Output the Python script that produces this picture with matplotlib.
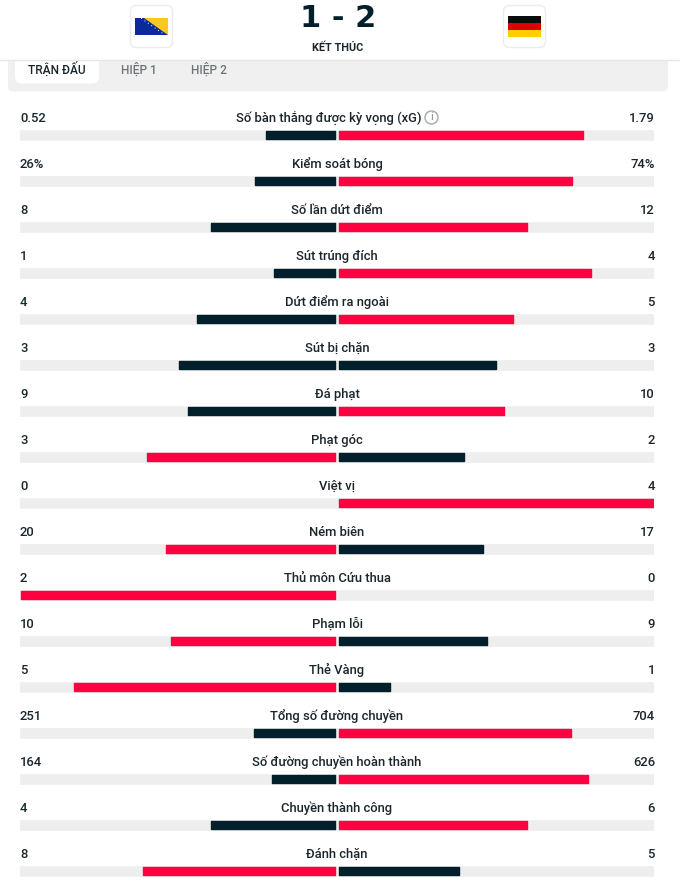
import matplotlib
matplotlib.use('Agg')
import matplotlib.pyplot as plt
from matplotlib.patches import FancyBboxPatch, Polygon, Rectangle, Circle

plt.rcParams['font.family'] = ['Roboto', 'DejaVu Sans']

# Data:
labels = ['Số bàn thắng được kỳ vọng (xG)', 'Kiểm soát bóng', 'Số lần dứt điểm', 'Sút trúng đích',
          'Dứt điểm ra ngoài', 'Sút bị chặn', 'Đá phạt', 'Phạt góc', 'Việt vị', 'Ném biên',
          'Thủ môn Cứu thua', 'Phạm lỗi', 'Thẻ Vàng', 'Tổng số đường chuyền',
          'Số đường chuyền hoàn thành', 'Chuyền thành công', 'Đánh chặn']
home_text = ['0.52', '26%', '8', '1', '4', '3', '9', '3', '0', '20', '2', '10', '5', '251', '164', '4', '8']
away_text = ['1.79', '74%', '12', '4', '5', '3', '10', '2', '4', '17', '0', '9', '1', '704', '626', '6', '5']
home = [0.52, 26, 8, 1, 4, 3, 9, 3, 0, 20, 2, 10, 5, 251, 164, 4, 8]
away = [1.79, 74, 12, 4, 5, 3, 10, 2, 4, 17, 0, 9, 1, 704, 626, 6, 5]
tabs = ['TRẬN ĐẤU', 'HIỆP 1', 'HIỆP 2']
score = '1 - 2'
status = 'KẾT THÚC'

DARK = '#02202b'
RED = '#ff0040'
TRACK = '#eeeeee'
TEXT = '#1a262c'

fig = plt.figure(figsize=(6.8, 8.88), dpi=100, facecolor='white')

# Stats: x is the share of the match total, y the row number
ax = fig.add_axes([20/680, 0, 634/680, 788/888])
ax.set_xlim(-1, 1)
ax.set_ylim((888-135)/46, (100-135)/46)
ax.axis('off')

gap = 1.7/317
for i in range(len(labels)):
    total = home[i] + away[i]
    l = home[i]/total
    r = away[i]/total
    lcol = RED if home[i] > away[i] else DARK
    rcol = RED if away[i] > home[i] else DARK
    ax.barh(i, 1, left=-1, height=0.2, color=TRACK, edgecolor=TRACK, lw=0.5)
    ax.barh(i, 1, left=0, height=0.2, color=TRACK, edgecolor=TRACK, lw=0.5)
    if l > 0:
        ax.barh(i, -(l-1.4*gap), left=-gap, height=0.195, color=lcol, edgecolor=lcol, lw=1, joinstyle='round')
    if r > 0:
        ax.barh(i, r-gap, left=gap, height=0.195, color=rcol, edgecolor=rcol, lw=1, joinstyle='round')
    ax.annotate(home_text[i], (-1, i), xytext=(0, 12.2), textcoords='offset points',
                ha='left', va='center', fontsize=9.4, fontweight='medium', color=TEXT)
    ax.annotate(away_text[i], (1, i), xytext=(0.7, 12.2), textcoords='offset points',
                ha='right', va='center', fontsize=9.4, fontweight='medium', color=TEXT)
    # the xG label makes room for the info icon
    ax.annotate(labels[i], (0, i), xytext=(-6 if i == 0 else 0, 12.2), textcoords='offset points',
                ha='center', va='center', fontsize=9.4, fontweight='medium', color=TEXT)

# Page furniture in pixel coordinates
top = fig.add_axes([0, 0, 1, 1], zorder=-1)
top.set_xlim(0, 680)
top.set_ylim(888, 0)
top.axis('off')
top.add_patch(FancyBboxPatch((8, 40), 660, 51.5, boxstyle='round,pad=0,rounding_size=5', fc='#f0f0f0', ec='none'))
top.add_patch(FancyBboxPatch((15, 50), 84, 33.5, boxstyle='round,pad=0,rounding_size=7', fc='white', ec='none'))

head = fig.add_axes([0, 0, 1, 1], zorder=3)
head.set_xlim(0, 680)
head.set_ylim(888, 0)
head.axis('off')
head.add_patch(Rectangle((0, 0), 680, 60, fc='white', ec='none'))
head.plot([0, 680], [60.5, 60.5], color='#e6e6e6', lw=1)
for x0 in (130.5, 503.5):
    head.add_patch(FancyBboxPatch((x0, 5.5), 42, 42, boxstyle='round,pad=0,rounding_size=6', fc='white', ec='#ececec', lw=1))

# Bosnia flag
head.add_patch(Rectangle((135, 18), 33, 17, fc='#0a2a9a', ec='none'))
head.add_patch(Polygon([(144, 18), (168, 18), (168, 35)], fc='#fcc81e', ec='none'))
for k in range(7):
    head.add_patch(Circle((141.5+3.4*k, 18.5+2.4*k), 0.55, fc='white', ec='none'))
# German flag
for k, c in enumerate(['#0c0c0c', '#dd0000', '#ffcf00']):
    head.add_patch(Rectangle((508, 16.5+7*k), 33, 7, fc=c, ec='none'))

head.text(338, 18.5, score, ha='center', va='center', fontsize=22, fontweight='bold', color=DARK, family='DejaVu Sans')
head.text(338, 47.5, status, ha='center', va='center', fontsize=7.8, fontweight='bold', color=TEXT)

top.text(57, 69.5, tabs[0], ha='center', va='center', fontsize=8.6, fontweight='medium', color=TEXT)
top.text(139, 69.5, tabs[1], ha='center', va='center', fontsize=8.6, fontweight='medium', color='#6b7478')
top.text(209, 69.5, tabs[2], ha='center', va='center', fontsize=8.6, fontweight='medium', color='#6b7478')

# Info icon next to the xG label
head.add_patch(Circle((431.5, 117.5), 6.5, fc='white', ec='#a8a8a8', lw=1))
head.text(431.5, 117.5, 'i', ha='center', va='center', fontsize=8, color='#8a8a8a')

fig.savefig('out.png', dpi=100)
